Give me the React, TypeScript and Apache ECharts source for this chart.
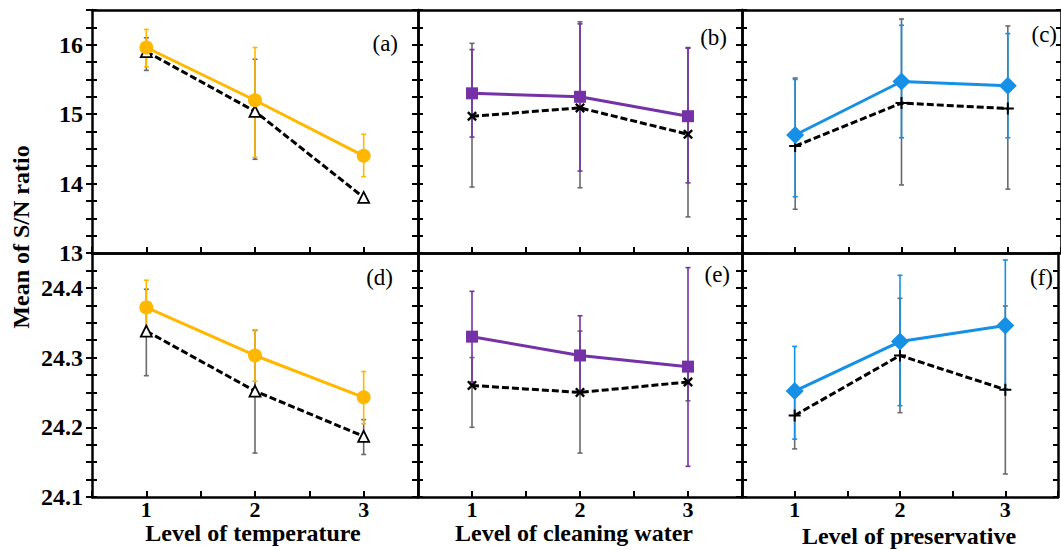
import React, { useEffect, useRef } from "react";
import * as echarts from "echarts";

// ---------- data ----------
const levels = [1, 2, 3];

// (a) temperature – top row
const aMain = [15.96, 15.2, 14.4];
const aMainHi = [16.22, 15.96, 14.71];
const aMainLo = [15.68, 14.38, 14.1];
const aRef = [15.9, 15.04, 13.8];
const aRefHi = [16.1, 15.79, 13.8];
const aRefLo = [15.63, 14.35, 13.8];

// (b) cleaning water – top row
const bMain = [15.3, 15.25, 14.97];
const bMainHi = [15.93, 16.3, 15.95];
const bMainLo = [14.67, 14.18, 14.01];
const bRef = [14.97, 15.09, 14.71];
const bRefHi = [16.02, 16.33, 15.96];
const bRefLo = [13.95, 13.94, 13.52];

// (c) preservative – top row
const cMain = [14.7, 15.47, 15.41];
const cMainHi = [15.5, 16.28, 16.16];
const cMainLo = [13.81, 14.66, 14.66];
const cRef = [14.54, 15.16, 15.08];
const cRefHi = [15.52, 16.37, 16.27];
const cRefLo = [13.63, 13.98, 13.92];

// (d) temperature – bottom row
const dMain = [24.372, 24.303, 24.243];
const dMainHi = [24.411, 24.34, 24.28];
const dMainLo = [24.333, 24.266, 24.205];
const dRef = [24.338, 24.252, 24.187];
const dRefHi = [24.398, 24.339, 24.211];
const dRefLo = [24.274, 24.163, 24.161];

// (e) cleaning water – bottom row
const eMain = [24.33, 24.303, 24.287];
const eMainHi = [24.395, 24.36, 24.429];
const eMainLo = [24.265, 24.25, 24.144];
const eRef = [24.26, 24.25, 24.265];
const eRefHi = [24.3, 24.338, 24.29];
const eRefLo = [24.2, 24.163, 24.238];

// (f) preservative – bottom row
const fMain = [24.252, 24.323, 24.346];
const fMainHi = [24.316, 24.418, 24.44];
const fMainLo = [24.183, 24.231, 24.255];
const fRef = [24.217, 24.303, 24.254];
const fRefHi = [24.26, 24.385, 24.374];
const fRefLo = [24.169, 24.221, 24.133];

const topYLabels = [13, 14, 15, 16];
const bottomYLabels = [24.1, 24.2, 24.3, 24.4];
const xLabels = [1, 2, 3];
const panelTags = ["(a)", "(b)", "(c)", "(d)", "(e)", "(f)"];
const xTitles = ["Level of temperature", "Level of cleaning water", "Level of preservative"];
const yTitle = "Mean of S/N ratio";

// ---------- styling / layout ----------
const FONT = "Liberation Serif";
const ORANGE = "#FFB700";
const PURPLE = "#7432A6";
const BLUE = "#1590E6";
const GREY = "#6a6a6a";

const CROSS_PATH = "path://M0,2L2,0L6,4L10,0L12,2L8,6L12,10L10,12L6,8L2,12L0,10L4,6Z";
const PLUS_PATH = "path://M5,0H7V5H12V7H7V12H5V7H0V5H5Z";

const gridRects = [
  [92, 10, 326, 243],
  [418, 10, 324, 243],
  [742, 10, 326, 243],
  [92, 253, 326, 244],
  [418, 253, 324, 244],
  [742, 253, 326, 244],
];

type Panel = {
  main: number[]; mainHi: number[]; mainLo: number[];
  ref: number[]; refHi: number[]; refLo: number[];
  color: string; symbol: string; symbolSize: number;
  refSymbol: string; refSymbolSize: number; refOpen: boolean;
};

const panels: Panel[] = [
  { main: aMain, mainHi: aMainHi, mainLo: aMainLo, ref: aRef, refHi: aRefHi, refLo: aRefLo, color: ORANGE, symbol: "circle", symbolSize: 14, refSymbol: "triangle", refSymbolSize: 11, refOpen: true },
  { main: bMain, mainHi: bMainHi, mainLo: bMainLo, ref: bRef, refHi: bRefHi, refLo: bRefLo, color: PURPLE, symbol: "rect", symbolSize: 12, refSymbol: CROSS_PATH, refSymbolSize: 10, refOpen: false },
  { main: cMain, mainHi: cMainHi, mainLo: cMainLo, ref: cRef, refHi: cRefHi, refLo: cRefLo, color: BLUE, symbol: "diamond", symbolSize: 18, refSymbol: PLUS_PATH, refSymbolSize: 12, refOpen: false },
  { main: dMain, mainHi: dMainHi, mainLo: dMainLo, ref: dRef, refHi: dRefHi, refLo: dRefLo, color: ORANGE, symbol: "circle", symbolSize: 14, refSymbol: "triangle", refSymbolSize: 11, refOpen: true },
  { main: eMain, mainHi: eMainHi, mainLo: eMainLo, ref: eRef, refHi: eRefHi, refLo: eRefLo, color: PURPLE, symbol: "rect", symbolSize: 12, refSymbol: CROSS_PATH, refSymbolSize: 10, refOpen: false },
  { main: fMain, mainHi: fMainHi, mainLo: fMainLo, ref: fRef, refHi: fRefHi, refLo: fRefLo, color: BLUE, symbol: "diamond", symbolSize: 18, refSymbol: PLUS_PATH, refSymbolSize: 12, refOpen: false },
];

function near(v: number, list: number[]) {
  return list.some((t) => Math.abs(v - t) < 1e-6);
}

function errorSeries(xi: number, yi: number, lo: number[], hi: number[], color: string, z: number) {
  return {
    type: "custom",
    xAxisIndex: xi,
    yAxisIndex: yi,
    z,
    silent: true,
    data: levels.map((x, k) => [x, lo[k], hi[k]]),
    encode: { x: 0, y: [1, 2] },
    renderItem: (params: any, api: any) => {
      const x = api.value(0);
      const pLo = api.coord([x, api.value(1)]);
      const pHi = api.coord([x, api.value(2)]);
      const w = 2.5;
      const style = { stroke: color, lineWidth: 1.6 };
      return {
        type: "group",
        children: [
          { type: "line", shape: { x1: pLo[0], y1: pLo[1], x2: pHi[0], y2: pHi[1] }, style },
          { type: "line", shape: { x1: pHi[0] - w, y1: pHi[1], x2: pHi[0] + w, y2: pHi[1] }, style },
          { type: "line", shape: { x1: pLo[0] - w, y1: pLo[1], x2: pLo[0] + w, y2: pLo[1] }, style },
        ],
      };
    },
  };
}

function buildOption() {
  const grid: any[] = [];
  const xAxis: any[] = [];
  const yAxis: any[] = [];
  const series: any[] = [];

  gridRects.forEach((r, i) => {
    const [left, top, width, height] = r;
    const isTop = i < 3;
    const col = i % 3;
    grid.push({ left, top, width, height, containLabel: false });

    const yMin = isTop ? 13 : 24.1;
    const yMax = isTop ? 16.5 : 24.45;
    const yInt = isTop ? 0.25 : 0.025;
    const labels = isTop ? topYLabels : bottomYLabels;

    // bottom x axis
    xAxis.push({
      type: "value", gridIndex: i, position: "bottom", min: 0.5, max: 3.5, interval: 0.5,
      axisLine: { show: true, onZero: false, lineStyle: { color: "#000", width: 2.5 } },
      axisTick: { show: true, inside: true, length: 6, lineStyle: { color: "#000", width: 2 } },
      splitLine: { show: false },
      axisLabel: {
        show: !isTop, margin: 1, color: "#000", fontFamily: FONT, fontWeight: "bold", fontSize: 22,
        formatter: (v: number) => (near(v, xLabels) ? String(Math.round(v)) : ""),
      },
    });
    // top frame line
    xAxis.push({
      type: "value", gridIndex: i, position: "top", min: 0.5, max: 3.5,
      axisLine: { show: true, onZero: false, lineStyle: { color: "#000", width: 2.5 } },
      axisTick: { show: false }, axisLabel: { show: false }, splitLine: { show: false },
    });

    // left: line + inside ticks
    yAxis.push({
      type: "value", gridIndex: i, position: "left", min: yMin, max: yMax, interval: yInt,
      axisLine: { show: true, onZero: false, lineStyle: { color: "#000", width: 2.5 } },
      axisTick: { show: true, inside: true, length: 5, lineStyle: { color: "#000", width: 2 } },
      axisLabel: { show: false }, splitLine: { show: false },
    });
    // left: outside ticks + labels
    yAxis.push({
      type: "value", gridIndex: i, position: "left", min: yMin, max: yMax, interval: yInt,
      axisLine: { show: false, onZero: false },
      axisTick: { show: true, inside: false, length: 6, lineStyle: { color: "#000", width: 2 } },
      splitLine: { show: false },
      axisLabel: {
        show: col === 0, margin: 9, color: "#000", fontFamily: FONT, fontWeight: "bold", fontSize: 24,
        formatter: (v: number) => (near(v, labels) ? (isTop ? String(Math.round(v)) : v.toFixed(1)) : ""),
      },
    });
    // right: line + inside ticks
    yAxis.push({
      type: "value", gridIndex: i, position: "right", min: yMin, max: yMax, interval: yInt,
      axisLine: { show: true, onZero: false, lineStyle: { color: "#000", width: 2.5 } },
      axisTick: { show: true, inside: true, length: 5, lineStyle: { color: "#000", width: 2 } },
      axisLabel: { show: false }, splitLine: { show: false },
    });

    const p = panels[i];
    const xi = i * 2;
    const yi = i * 3;
    series.push(errorSeries(xi, yi, p.refLo, p.refHi, GREY, 1));
    series.push(errorSeries(xi, yi, p.mainLo, p.mainHi, p.color, 2));
    series.push({
      type: "line", xAxisIndex: xi, yAxisIndex: yi, z: 3,
      data: levels.map((x, k) => [x, p.ref[k]]),
      symbol: p.refSymbol, symbolSize: p.refSymbolSize, showSymbol: true,
      lineStyle: { color: "#000", width: 3, type: [7, 3] },
      itemStyle: p.refOpen
        ? { color: "#fff", borderColor: "#000", borderWidth: 1.8 }
        : { color: "#000", borderWidth: 0 },
    });
    series.push({
      type: "line", xAxisIndex: xi, yAxisIndex: yi, z: 4,
      data: levels.map((x, k) => [x, p.main[k]]),
      symbol: p.symbol, symbolSize: p.symbolSize, showSymbol: true,
      lineStyle: { color: p.color, width: 3 },
      itemStyle: { color: p.color, borderWidth: 0 },
    });
  });

  const tagPos = [
    [398, 43], [727, 37], [1057, 34],
    [393, 277], [730, 274], [1053, 277],
  ];
  const graphic: any[] = panelTags.map((t, i) => ({
    type: "text", x: tagPos[i][0], y: tagPos[i][1], z: 10,
    style: { text: t, fill: "#000", fontFamily: FONT, fontSize: 23, align: "right", verticalAlign: "middle" },
  }));
  const titlePos = [[253, 533], [574, 533], [909, 536]];
  xTitles.forEach((t, i) => {
    graphic.push({
      type: "text", x: titlePos[i][0], y: titlePos[i][1], z: 10,
      style: { text: t, fill: "#000", fontFamily: FONT, fontWeight: "bold", fontSize: 24, align: "center", verticalAlign: "middle" },
    });
  });
  graphic.push({
    type: "text", x: 21, y: 237, rotation: Math.PI / 2, z: 10,
    style: { text: yTitle, fill: "#000", fontFamily: FONT, fontWeight: "bold", fontSize: 24, align: "center", verticalAlign: "middle" },
  });

  return {
    animation: false,
    backgroundColor: "#fff",
    grid, xAxis, yAxis, series, graphic,
  };
}

export default function App() {
  const ref = useRef<HTMLDivElement>(null);
  useEffect(() => {
    if (!ref.current) return;
    const chart = echarts.init(ref.current, undefined, { renderer: "svg" });
    chart.setOption(buildOption() as any);
    return () => chart.dispose();
  }, []);
  return (
    <div
      ref={ref}
      style={{ position: "fixed", left: 0, top: 0, width: 1061, height: 549, background: "#fff" }}
    />
  );
}
